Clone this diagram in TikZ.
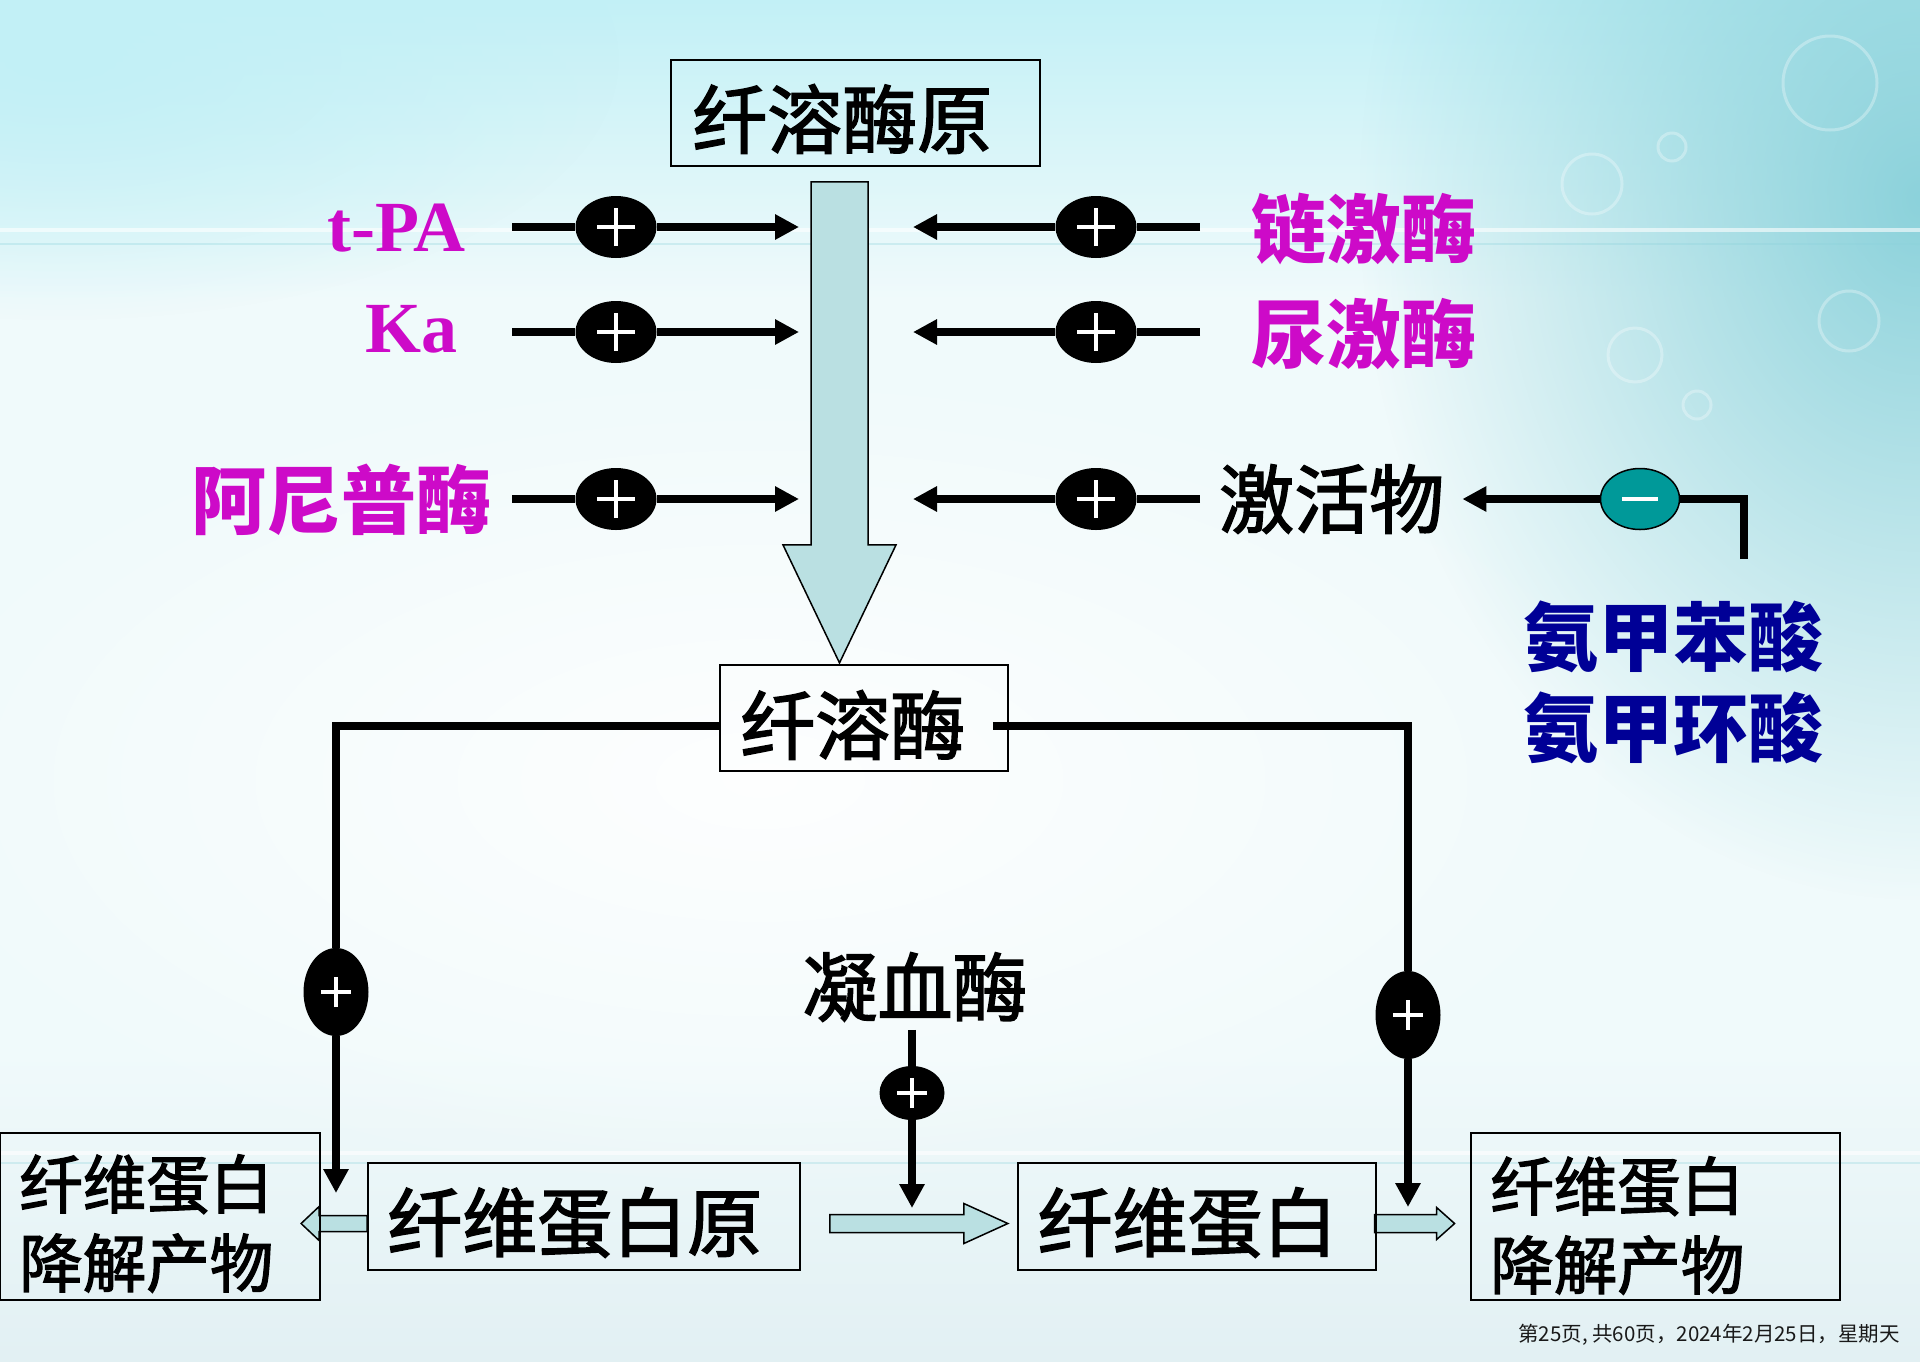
\documentclass[tikz,border=0pt]{standalone}
\usepackage{fontspec}
\setmainfont{Liberation Serif}
\newfontfamily\cjk{Noto Sans CJK SC}
\newfontfamily\cjkfb{Noto Sans CJK SC}[FakeBold=2]
\usetikzlibrary{shapes.geometric,arrows.meta,fadings,calc}
\definecolor{mag}{RGB}{205,10,200}
\definecolor{dblue}{RGB}{0,0,150}
\definecolor{tealc}{RGB}{0,153,153}
\definecolor{afill}{RGB}{186,224,226}
\definecolor{bgbase}{RGB}{240,250,251}
\definecolor{bgtop}{RGB}{194,240,246}
\definecolor{bgright}{RGB}{140,210,219}
\definecolor{bgbot}{RGB}{226,240,243}
\tikzfading[name=softedge, inner color=transparent!0, outer color=transparent!100]
\pgfdeclarelayer{bg}
\pgfdeclarelayer{lines}
\pgfsetlayers{bg,lines,main}
\tikzset{
  plusmark/.style={path picture={
    \draw[white,line width=3.5pt] ([xshift=-#1]path picture bounding box.center) -- ([xshift=#1]path picture bounding box.center);
    \draw[white,line width=3.5pt] ([yshift=-#1]path picture bounding box.center) -- ([yshift=#1]path picture bounding box.center);}},
  pe/.style={ellipse, fill=black, inner sep=0, minimum width=81, minimum height=62, plusmark=19pt},
  pv/.style={ellipse, fill=black, inner sep=0, minimum width=65, minimum height=88, plusmark=15pt},
  ps/.style={ellipse, fill=black, inner sep=0, minimum width=65, minimum height=54, plusmark=15pt},
  mn/.style={ellipse, fill=tealc, draw=black, line width=1.5, minimum width=79, minimum height=61, inner sep=0,
    path picture={\draw[white,line width=4pt] ([xshift=-18pt]path picture bounding box.center) -- ([xshift=18pt]path picture bounding box.center);}},
  ln/.style={line width=8, black},
  arr/.style={ln, -{Triangle[length=24pt,width=24pt]}},
  bigarr/.style={fill=afill, draw=black, line width=1.5},
  frame/.style={draw=black, line width=1.8, inner sep=0},
  lab/.style={inner sep=0, font=\cjkfb\fontsize{75}{90}\selectfont},
  lab2/.style={inner sep=0, align=left, font=\cjkfb\fontsize{63.5}{79}\selectfont},
  mlab/.style={inner sep=0, text=mag, font=\cjk\bfseries\fontsize{75}{90}\selectfont},
  llab/.style={inner sep=0, text=mag, font=\bfseries\fontsize{72}{88}\selectfont},
}
\begin{document}
\begin{tikzpicture}[x=1pt,y=-1pt]
\useasboundingbox (0,0) rectangle (1920,1361);
% background
\begin{pgfonlayer}{bg}
\fill[bgbase] (0,0) rectangle (1920,1361);
\shade[top color=bgtop, bottom color=bgbase] (0,0) rectangle (1920,300);
\shade[top color=bgbase, bottom color=bgbot] (0,1050) rectangle (1920,1361);
\fill[bgright, path fading=softedge] (1920,200) ellipse [x radius=560pt, y radius=700pt];
\fill[bgtop, path fading=softedge] (60,60) ellipse [x radius=560pt, y radius=260pt];
\fill[white, path fading=softedge, opacity=.9] (760,780) ellipse [x radius=900pt, y radius=420pt];
\draw[white, line width=4, opacity=.6] (0,230) -- (1920,230);
\draw[bgright, line width=2, opacity=.3] (0,244) -- (1920,244);
\draw[white, line width=4, opacity=.6] (0,1153) -- (1920,1153);
\draw[bgright, line width=2, opacity=.3] (0,1163) -- (1920,1163);
\foreach \cx/\cy/\r in {1830/83/47, 1592/184/30, 1672/147/14, 1635/355/27, 1849/321/30, 1697/405/14}
  \draw[white, line width=3, opacity=.3] (\cx,\cy) circle[radius=\r pt];
\end{pgfonlayer}

% boxes (frames) and their texts
\node[frame, minimum width=369, minimum height=106] (pgn) at (855.5,113) {};
\node[lab, anchor=west] (pgnt) at ($(pgn.west)+(22,6)$) {纤溶酶原};
\node[frame, minimum width=288, minimum height=106] (pl) at (864,718) {};
\node[lab, anchor=west] (plt) at ($(pl.west)+(21,7)$) {纤溶酶};
\node[frame, minimum width=432, minimum height=107] (fyuan) at (584,1216.5) {};
\node[lab, anchor=west] (fyuant) at ($(fyuan.west)+(20,6)$) {纤维蛋白原};
\node[frame, minimum width=357.5, minimum height=107] (fb) at (1197,1216.5) {};
\node[lab, anchor=west] (fbt) at ($(fb.west)+(20,6)$) {纤维蛋白};
\node[frame, minimum width=320, minimum height=167] (ldp) at (160,1216.5) {};
\node[lab2, anchor=west] (ldpt) at ($(ldp.west)+(20,7)$) {纤维蛋白\\降解产物};
\node[frame, minimum width=369, minimum height=167] (rdp) at (1655.5,1216.5) {};
\node[lab2, anchor=west] (rdpt) at ($(rdp.west)+(20,9)$) {纤维蛋白\\降解产物};

% labels
\node[llab, anchor=east] (tpa) at (466,228) {t-PA};
\node[llab, anchor=east] (ka) at (458,329) {Ka};
\node[mlab, anchor=east] (anp) at (492,500) {阿尼普酶};
\node[mlab, anchor=west] (lsj) at (1251,229) {链激酶};
\node[mlab, anchor=west] (nsj) at (1251,334) {尿激酶};
\node[lab, anchor=west] (jhw) at (1219,499) {激活物};
\node[inner sep=0, align=center, text=dblue, font=\cjk\bfseries\fontsize{75}{91}\selectfont] (amb) at (1673,682) {氨甲苯酸\\氨甲环酸};
\node[lab] (nx) at (915,987) {凝血酶};
\node[inner sep=0, anchor=east, text=black!90, font=\cjk\fontsize{20.5}{24}\selectfont] (foot) at (1900,1335) {第25页, 共60页，2024年2月25日，星期天};

% sign ellipses
\node[pe] (p1) at (616,227) {};
\node[pe] (p2) at (616,332) {};
\node[pe] (p3) at (616,499) {};
\node[pe] (q1) at (1096,227) {};
\node[pe] (q2) at (1096,332) {};
\node[pe] (q3) at (1096,499) {};
\node[mn] (m1) at (1640,499) {};
\node[pv] (lp) at (336,992) {};
\node[pv] (rp) at (1408,1015) {};
\node[ps] (np) at (912,1093) {};

% free ends
\coordinate (s1) at (512,227);
\coordinate (s2) at (512,332);
\coordinate (s3) at (512,499);
\coordinate (t1) at (799,227);
\coordinate (t2) at (799,332);
\coordinate (t3) at (799,499);
\coordinate (u1) at (1200,227);
\coordinate (u2) at (1200,332);
\coordinate (u3) at (1200,499);
\coordinate (v1) at (913,227);
\coordinate (v2) at (913,332);
\coordinate (v3) at (913,499);
\coordinate (ib) at (1744,559);
\coordinate (lt) at (336,1193);
\coordinate (rt) at (1408,1207);
\coordinate (nt) at (912,1208);

\begin{pgfonlayer}{lines}
% big arrow
\draw[bigarr] ($(pgn.south)+(-44.5,15)$) -- ++(57,0) -- ++(0,363) -- ++(28,0) -- ++(-56.5,118) -- ++(-56.5,-118) -- ++(28,0) -- cycle;
% rows
\foreach \i in {1,2,3}{
  \draw[ln] (s\i) -- (p\i);
  \draw[arr] (p\i) -- (t\i);
  \draw[ln] (u\i) -- (q\i);
  \draw[arr] (q\i) -- (v\i);
}
% inhibitor
\draw[ln] (ib) |- (m1);
\draw[arr] (m1) -- ($(m1 -| jhw.east)+(18,0)$);
% plasmin branches
\draw[ln] ($(pl.west)+(0,8)$) -| (lp);
\draw[arr] (lp) -- (lt);
\draw[ln] ($(pl.east)+(-16,8)$) -| (rp);
\draw[arr] (rp) -- (rt);
% thrombin
\draw[ln] ($(nx.south -| np)+(0,8)$) -- (np);
\draw[arr] (np) -- (nt);
% block arrows
\draw[bigarr] ($(fyuan.west)+(0,-1)$) -- ++(-48,0) -- ++(0,-9) -- ++(-18,17) -- ++(18,17) -- ++(0,-9) -- ++(48,0) -- cycle;
\draw[bigarr] ($(fb.west)+(-9.5,7)$) -- ++(-44,-20) -- ++(0,11) -- ++(-134,0) -- ++(0,18) -- ++(134,0) -- ++(0,11) -- cycle;
\draw[bigarr] ($(rdp.west)+(-15.5,7)$) -- ++(-18,-16) -- ++(0,7) -- ++(-62,0) -- ++(0,18) -- ++(62,0) -- ++(0,7) -- cycle;
\end{pgfonlayer}
\end{tikzpicture}
\end{document}
